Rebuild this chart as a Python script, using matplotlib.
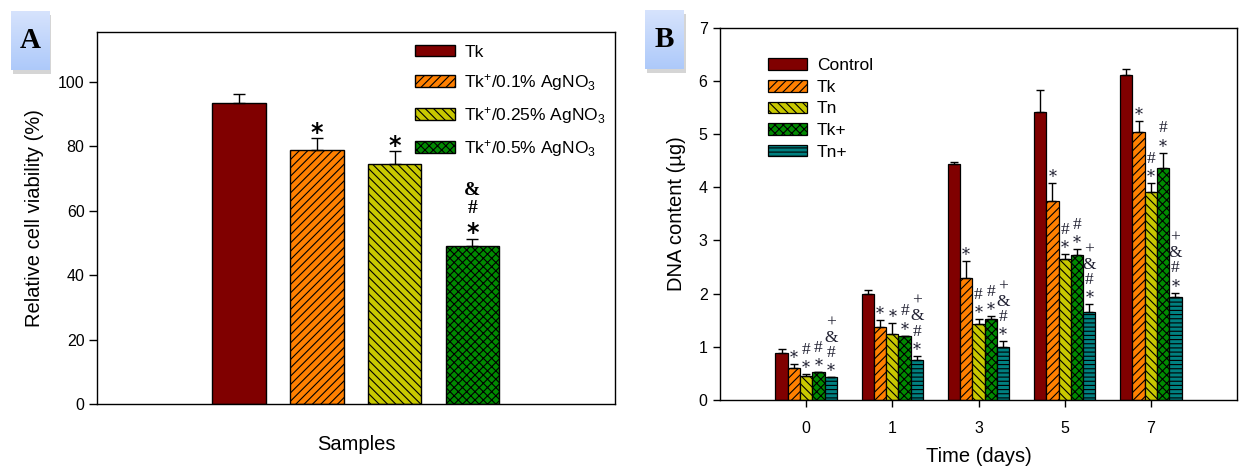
import numpy as np
import matplotlib
matplotlib.use("Agg")
import matplotlib.pyplot as plt
from matplotlib.patches import Rectangle

plt.rcParams['font.family'] = ['Liberation Sans', 'DejaVu Sans']
plt.rcParams['mathtext.fontset'] = 'custom'
plt.rcParams['mathtext.rm'] = 'Liberation Sans'
plt.rcParams['mathtext.it'] = 'Liberation Sans:italic'
plt.rcParams['hatch.linewidth'] = 0.8

# ---------------- Data: panel A ----------------
A_labels = [r'Tk', r'Tk$^{+}$/0.1% AgNO$_3$', r'Tk$^{+}$/0.25% AgNO$_3$', r'Tk$^{+}$/0.5% AgNO$_3$']
A_values = [93.6, 78.8, 74.5, 49.1]
A_errors = [2.7, 3.7, 3.9, 2.2]
A_marks = [[], ['*'], ['*'], ['*', '#', '&']]
A_yticks = [0, 20, 40, 60, 80, 100]

# ---------------- Data: panel B ----------------
B_days = ['0', '1', '3', '5', '7']
B_series = ['Control', 'Tk', 'Tn', 'Tk+', 'Tn+']
B_control = [0.88, 2.00, 4.44, 5.42, 6.12]
B_tk = [0.61, 1.38, 2.29, 3.75, 5.03]
B_tn = [0.45, 1.25, 1.43, 2.66, 3.92]
B_tkp = [0.52, 1.20, 1.52, 2.72, 4.37]
B_tnp = [0.43, 0.75, 0.99, 1.65, 1.93]
B_control_err = [0.07, 0.07, 0.04, 0.40, 0.11]
B_tk_err = [0.07, 0.12, 0.32, 0.33, 0.21]
B_tn_err = [0.03, 0.20, 0.09, 0.08, 0.16]
B_tkp_err = [0.01, 0.01, 0.05, 0.11, 0.28]
B_tnp_err = [0.00, 0.08, 0.11, 0.15, 0.09]
B_marks = [
    [[], [], [], [], []],
    [['*'], ['*'], ['*'], ['*'], ['*']],
    [['*', '#'], ['*'], ['*', '#'], ['*', '#'], ['*', '#']],
    [['*', '#'], ['*', '#'], ['*', '#'], ['*', '#'], ['*', '#']],
    [['*', '#', '&', '+']] * 5,
]
B_yticks = [0, 1, 2, 3, 4, 5, 6, 7]

# ---------------- Styles ----------------
colA = ['#800000', '#FF8000', '#C8C800', '#008A00']
hatA = ['', '////', '\\\\\\\\', 'xxxx']
colB = ['#800000', '#FF8000', '#C8C800', '#008A00', '#008080']
hatB = ['', '////', '\\\\\\\\', 'xxxx', '----']

fig = plt.figure(figsize=(12.39, 4.68), dpi=100)

# ---------------- Panel A ----------------
axA = fig.add_axes([97/1239, 1-404/468, 518/1239, 372/468])
xA = np.arange(1, len(A_values)+1)
for i in range(len(A_values)):
    axA.bar(xA[i], A_values[i], width=0.69, color=colA[i], hatch=hatA[i],
            edgecolor='black', linewidth=1.0, label=A_labels[i], zorder=2)
    axA.errorbar(xA[i], A_values[i], yerr=[[0], [A_errors[i]]], fmt='none',
                 ecolor='black', elinewidth=1.0, capsize=4.5, capthick=1.0, zorder=3)
    for k, s in enumerate(A_marks[i]):
        off = 8 + k*13.5 + (-4 if s == '*' else 0)
        axA.annotate(s, xy=(xA[i], A_values[i] + A_errors[i]), xytext=(0, off),
                     textcoords='offset points', ha='center', va='center',
                     fontsize=17 if s == '*' else 14, fontweight='bold',
                     family='DejaVu Sans' if s == '*' else 'Liberation Serif')
axA.set_xlim(-0.82, 5.83)
axA.set_ylim(0, 115.5)
axA.set_yticks(A_yticks)
axA.set_xticks([])
axA.tick_params(axis='y', direction='out', length=6, width=1, labelsize=11.5, pad=3)
axA.set_ylabel('Relative cell viability (%)', fontsize=14.5, labelpad=10)
axA.set_xlabel('Samples', fontsize=14.5, labelpad=22)
for sp in axA.spines.values():
    sp.set_linewidth(1.0)
legA = axA.legend(loc='upper left', bbox_to_anchor=(0.60, 0.985), frameon=False,
                  fontsize=12.5, handlelength=2.3, handleheight=0.65,
                  handletextpad=0.55, labelspacing=0.7, borderaxespad=0)

# ---------------- Panel B ----------------
axB = fig.add_axes([720/1239, 1-400/468, 517/1239, 372.3/468])
xB = np.arange(len(B_days))
vals = [B_control, B_tk, B_tn, B_tkp, B_tnp]
errs = [B_control_err, B_tk_err, B_tn_err, B_tkp_err, B_tnp_err]
w = 0.143
for j in range(len(B_series)):
    pos = xB + (j - 2) * w
    axB.bar(pos, vals[j], width=w, color=colB[j], hatch=hatB[j],
            edgecolor='black', linewidth=0.9, label=B_series[j], zorder=2)
    axB.errorbar(pos, vals[j], yerr=[np.zeros(len(pos)), errs[j]], fmt='none',
                 ecolor='black', elinewidth=1.0, capsize=3, capthick=1.0, zorder=3)
    for d in range(len(B_days)):
        top = vals[j][d] + errs[j][d]
        for k, s in enumerate(B_marks[j][d]):
            off = 6.5 + k*11 + (-2.5 if s == '*' else 0)
            axB.annotate(s, xy=(pos[d], top), xytext=(0, off),
                         textcoords='offset points', ha='center', va='center',
                         fontsize=11.5 if s == '*' else 12.5, color='#222233',
                         family='DejaVu Serif' if s == '*' else 'Liberation Serif')
axB.set_xlim(-1, 5)
axB.set_ylim(0, 7)
axB.set_yticks(B_yticks)
axB.set_xticks(xB)
axB.set_xticklabels(B_days)
axB.tick_params(axis='both', direction='out', length=5, width=1, labelsize=11.5, pad=4)
axB.tick_params(axis='x', pad=10)
axB.set_ylabel('DNA content (\u00b5g)', fontsize=14.5, labelpad=9)
axB.set_xlabel('Time (days)', fontsize=14.5, labelpad=8)
for sp in axB.spines.values():
    sp.set_linewidth(1.0)
legB = axB.legend(loc='upper left', bbox_to_anchor=(0.093, 0.918), frameon=False,
                  fontsize=12.5, handlelength=2.25, handleheight=0.65,
                  handletextpad=0.55, labelspacing=0.38, borderaxespad=0, borderpad=0)

# ---------------- Panel letter boxes ----------------
grad = np.linspace(0, 1, 64).reshape(-1, 1)
top_c = np.array([0.84, 0.89, 0.99])
bot_c = np.array([0.68, 0.79, 0.98])
img = top_c[None, None, :] * (1 - grad[:, :, None]) + bot_c[None, None, :] * grad[:, :, None]
for letter, (x0, y0, x1, y1) in [('A', (11, 11, 49, 70)), ('B', (645, 10, 684, 69))]:
    # shadow
    sh = Rectangle(((x0+2)/1239, 1-(y1+4)/468), (x1-x0)/1239, (y1-y0)/468,
                   transform=fig.transFigure, facecolor='#888888',
                   alpha=0.35, edgecolor='none', zorder=0)
    fig.patches.append(sh)
    bx = fig.add_axes([x0/1239, 1-y1/468, (x1-x0)/1239, (y1-y0)/468])
    bx.set_zorder(5)
    bx.imshow(img, aspect='auto', extent=(0, 1, 0, 1), interpolation='bilinear')
    bx.set_axis_off()
    bx.text(0.5, 0.5, letter, ha='center', va='center', fontsize=21,
            fontweight='bold', family='Liberation Serif', color='black',
            transform=bx.transAxes)

fig.savefig('out.png', dpi=100)
